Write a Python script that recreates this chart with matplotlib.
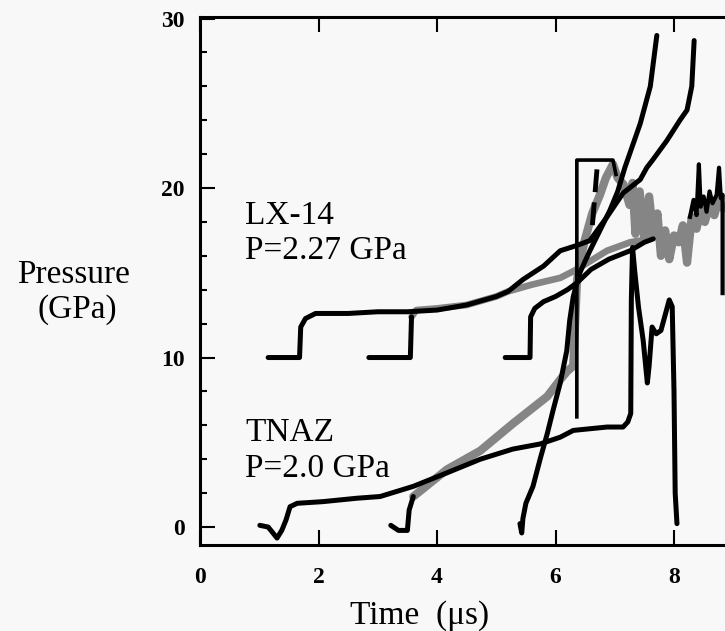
import matplotlib
matplotlib.use('Agg')
import matplotlib.pyplot as plt
from matplotlib.ticker import MultipleLocator

plt.rcParams['font.family'] = ['Liberation Serif', 'DejaVu Serif']

# LX-14 gauges (start from the 10 GPa baseline)
lx1_t = [1.15, 1.68, 1.70, 1.78, 1.95, 2.5, 3.0, 3.5, 4.0, 4.5, 5.0, 5.2, 5.45, 5.8, 6.08,
         6.35, 6.58, 6.87, 7.14, 7.43, 7.54, 7.65, 7.88, 8.10, 8.22, 8.30, 8.34]
lx1_p = [10, 10, 11.8, 12.3, 12.6, 12.6, 12.7, 12.7, 12.8, 13.1, 13.6, 13.9, 14.6, 15.4, 16.3,
         16.6, 16.9, 18.3, 19.7, 20.5, 21.2, 21.7, 22.8, 24.0, 24.6, 26.0, 28.7]

lx2_base_t = [2.85, 3.55, 3.57]
lx2_base_p = [10, 10, 12.4]
lx2_t = [3.57, 3.65, 4.0, 4.5, 5.0, 5.2, 5.6, 6.08, 6.36, 6.87, 7.26, 7.6]
lx2_p = [12.4, 12.8, 12.9, 13.1, 13.6, 13.9, 14.3, 14.7, 15.2, 16.3, 16.8, 17.0]

lx3_t = [5.15, 5.57, 5.58, 5.65, 5.8, 6.0, 6.2, 6.36, 6.6, 6.9, 7.26, 7.5, 7.65]
lx3_p = [10, 10, 12.4, 12.9, 13.3, 13.6, 14.0, 14.4, 15.2, 15.8, 16.3, 16.8, 17.0]

# TNAZ gauges (start from 0 GPa)
tn1_t = [1.01, 1.15, 1.22, 1.30, 1.38, 1.45, 1.52, 1.64, 2.08, 2.65, 3.04, 3.6, 4.17, 4.73,
         5.28, 5.74, 6.08, 6.3, 6.87, 7.14, 7.22, 7.27, 7.28, 7.30, 7.34, 7.40, 7.48, 7.55,
         7.58, 7.63, 7.70, 7.78, 7.85, 7.92, 7.97, 8.00, 8.02, 8.05]
tn1_p = [0.1, 0.0, -0.3, -0.65, -0.2, 0.4, 1.2, 1.4, 1.5, 1.7, 1.8, 2.4, 3.2, 4.0,
         4.6, 4.9, 5.3, 5.7, 5.9, 5.9, 6.2, 6.7, 13.4, 16.5, 15.0, 13.0, 11.0, 8.5,
         9.5, 11.8, 11.4, 11.6, 12.5, 13.4, 13.0, 8.0, 2.0, 0.2]

tn2_base_t = [3.22, 3.35, 3.50, 3.53, 3.6]
tn2_base_p = [0.1, -0.2, -0.2, 1.0, 1.8]
tn2_t = [3.6, 4.17, 4.73, 5.28, 5.86, 6.08, 6.2, 6.3, 6.33, 6.36, 6.4, 6.5, 6.62, 6.75, 6.85,
         6.97, 7.05, 7.15, 7.25, 7.3, 7.35, 7.42, 7.5, 7.58, 7.65, 7.72, 7.78, 7.85, 7.92,
         8.0, 8.08, 8.15, 8.22, 8.3, 8.38, 8.45, 8.52, 8.6, 8.68, 8.75, 8.83]
tn2_p = [1.8, 3.4, 4.5, 6.1, 7.7, 8.7, 9.2, 9.5, 12.0, 14.4, 15.5, 17.0, 18.5, 19.6, 20.6,
         21.4, 20.6, 20.2, 19.0, 20.3, 17.3, 19.8, 17.0, 19.5, 17.2, 18.5, 16.0, 17.5, 15.8,
         17.2, 16.8, 17.8, 15.6, 18.3, 17.6, 18.7, 18.0, 19.0, 18.4, 19.3, 18.8]

tn3_t = [5.40, 5.43, 5.45, 5.50, 5.62, 5.74, 5.86, 5.96, 6.08, 6.19, 6.24, 6.30, 6.41, 6.58,
         6.75, 6.92, 7.05, 7.17, 7.26, 7.43, 7.60, 7.71]
tn3_p = [0.2, -0.35, 0.5, 1.4, 2.4, 4.0, 5.5, 6.9, 8.5, 10.4, 12.2, 13.6, 15.0, 16.3,
         17.5, 18.7, 19.8, 21.2, 22.1, 23.8, 26.0, 29.0]

box_t = [6.36, 6.36, 6.97, 7.02]
box_p = [6.5, 21.65, 21.65, 20.8]

dash_t = [6.70, 6.62]
dash_p = [21.1, 17.7]

spk_t = [8.27, 8.33, 8.38, 8.42, 8.45, 8.5, 8.55, 8.6, 8.65, 8.72, 8.76, 8.79, 8.82, 8.82]
spk_p = [18.3, 19.3, 18.4, 21.4, 18.9, 19.5, 18.6, 19.8, 19.1, 19.6, 21.2, 19.4, 19.6, 13.8]

fig = plt.figure(figsize=(7.25, 6.31), dpi=100, facecolor='#f8f8f8')
ax = fig.add_axes([200 / 725, 86 / 631, 592.5 / 725, 528 / 631])
ax.set_facecolor('#f8f8f8')

gray = '#858585'
ax.plot(lx2_t, lx2_p, color=gray, lw=4.8, solid_capstyle='round')
ax.plot(tn2_t, tn2_p, color=gray, lw=6, solid_capstyle='round')

blk = dict(color='black', lw=3.6, solid_capstyle='round', solid_joinstyle='round')
ax.plot(lx1_t, lx1_p, **blk)
ax.plot(lx2_base_t, lx2_base_p, **blk)
ax.plot(lx3_t, lx3_p, **blk)
ax.plot(tn1_t, tn1_p, **blk)
ax.plot(tn2_base_t, tn2_base_p, **blk)
ax.plot(tn3_t, tn3_p, **blk)
ax.plot(spk_t, spk_p, color='black', lw=3.0)
ax.plot(box_t, box_p, color='black', lw=2.6)
ax.plot(dash_t, dash_p, color='black', lw=3.5, ls=(0, (4.7, 2.1)))

ax.set_xlim(0, 10)
ax.set_ylim(-1.06, 30.09)
ax.set_xticks([0, 2, 4, 6, 8])
ax.yaxis.set_major_locator(MultipleLocator(10))
ax.yaxis.set_minor_locator(MultipleLocator(2))

ax.tick_params(axis='x', which='major', direction='in', top=True, length=10.5, width=1.5,
               pad=16, labelsize=17)
ax.tick_params(axis='y', which='major', direction='in', length=10.5, width=1.5,
               pad=11, labelsize=17)
ax.tick_params(axis='y', which='minor', direction='in', length=5, width=1.5)
for lab in ax.get_xticklabels() + ax.get_yticklabels():
    lab.set_fontweight('bold')

for s in ['top', 'bottom', 'left']:
    ax.spines[s].set_linewidth(2.2)
ax.spines['right'].set_visible(False)

ax.text(0.76, 17.9, 'LX-14', fontsize=24, va='baseline')
ax.text(0.76, 15.8, 'P=2.27 GPa', fontsize=24, va='baseline')
ax.text(0.76, 5.1, 'TNAZ', fontsize=24, va='baseline')
ax.text(0.76, 2.95, 'P=2.0 GPa', fontsize=24, va='baseline')

fig.text(74 / 725, 1 - 283 / 631, 'Pressure', fontsize=24, ha='center', va='baseline')
fig.text(77 / 725, 1 - 318 / 631, '(GPa)', fontsize=24, ha='center', va='baseline')
fig.text(420 / 725, 1 - 624 / 631, 'Time  (\u03bcs)', fontsize=24, ha='center', va='baseline')

fig.savefig('out.png', dpi=100, facecolor=fig.get_facecolor())
